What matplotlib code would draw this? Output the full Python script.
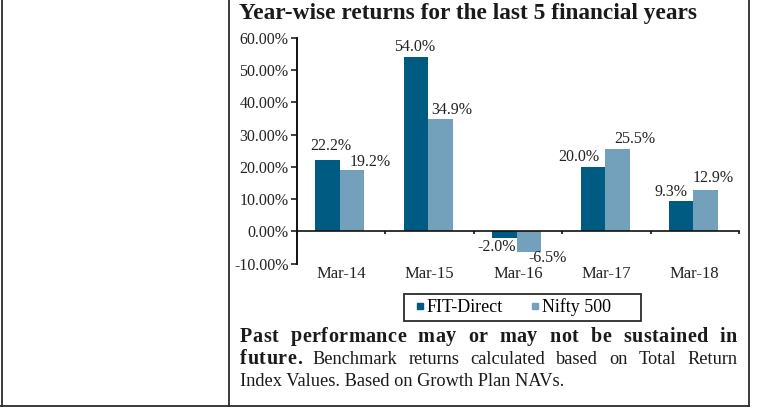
import numpy as np
import matplotlib
matplotlib.use('Agg')
import matplotlib.pyplot as plt
from matplotlib.lines import Line2D
from matplotlib.patches import Rectangle

plt.rcParams['font.family'] = ['Liberation Serif', 'DejaVu Serif']

# data
years = ['Mar-14', 'Mar-15', 'Mar-16', 'Mar-17', 'Mar-18']
fit_direct = [22.2, 54.0, -2.0, 20.0, 9.3]
nifty_500 = [19.2, 34.9, -6.5, 25.5, 12.9]
series_names = ['FIT-Direct', 'Nifty 500']
yticks = [-10, 0, 10, 20, 30, 40, 50, 60]
title = 'Year-wise returns for the last 5 financial years'
note_bold = ['Past', 'performance', 'may', 'or', 'may', 'not', 'be', 'sustained', 'in']
note_line2 = ['Benchmark', 'returns', 'calculated', 'based', 'on', 'Total', 'Return']
note_line3 = 'Index Values. Based on Growth Plan NAVs.'

# label nudges in pixels (dx, dy) - excel put them a bit off the bars
fit_nudge = [(3, 14), (-1, 10.6), (-8, -8.7), (-14.5, 10), (-10, 9)]
nifty_nudge = [(18.4, 8), (11, 9), (19, -5.5), (17, 10), (7.3, 12)]

dark = '#005b82'
light = '#73a0bb'
edge = '#2b2b2b'
ink = '#1a1a1a'

W, H = 759, 408
fig = plt.figure(figsize=(W / 100, H / 100), dpi=100)
r = fig.canvas.get_renderer()

def fx(px):
    return px / W

def fy(py):
    return 1 - py / H

ax = fig.add_axes([fx(297), fy(263.7), fx(739) - fx(297), fy(38) - fy(263.7)])
x = np.arange(len(years))
bw = 0.277
ax.bar(x - bw / 2 - 0.015, fit_direct, bw, color=dark)
ax.bar(x + bw / 2 - 0.015, nifty_500, bw, color=light)
ax.set_xlim(-0.5, len(years) - 0.5)
ax.set_ylim(-10, 60)

for s in ['top', 'right']:
    ax.spines[s].set_visible(False)
ax.spines['left'].set_linewidth(1.4)
ax.spines['left'].set_color('#111')
ax.spines['bottom'].set_position(('data', 0))
ax.spines['bottom'].set_linewidth(1.2)
ax.spines['bottom'].set_color('#111')

ax.set_yticks(yticks)
ax.set_yticklabels(['%.2f%%' % v for v in yticks])
ax.tick_params(axis='y', direction='out', length=4, width=1.2, pad=2, labelsize=11.5, colors='#222')
ax.set_xticks(np.arange(len(years) + 1) - 0.5)
ax.set_xticklabels([])
ax.tick_params(axis='x', direction='out', length=2.5, width=1.2, colors='#111')

for i, lab in enumerate(years):
    ax.annotate(lab, (i, 0), xycoords=('data', 'axes fraction'), xytext=(0, -10.6),
                textcoords='offset pixels', ha='center', va='center', fontsize=12, color='#222')

for i in range(len(years)):
    for vals, nudge, off in [(fit_direct, fit_nudge, -bw / 2), (nifty_500, nifty_nudge, bw / 2)]:
        v = vals[i]
        ax.annotate('%.1f%%' % v, (i + off - 0.015, v), xytext=nudge[i], textcoords='offset pixels',
                    ha='center', va='center', fontsize=11.5, color='#222')

# legend, box drawn by hand so it sits where the original one is
fig.add_artist(Rectangle((fx(404), fy(321)), fx(641) - fx(404), (321 - 294) / H,
                         transform=fig.transFigure, fill=False, ec=edge, lw=1.3))
handles = [Line2D([], [], ls='', marker='s', ms=5, color=c) for c in [dark, light]]
fig.legend(handles, series_names, loc='center left', bbox_to_anchor=(fx(415), fy(307.5)),
           ncol=2, frameon=False, fontsize=13, handlelength=0.5, handletextpad=0.15,
           columnspacing=1.5, borderpad=0, borderaxespad=0)

# title
fig.text(fx(239), fy(18.5), title, fontsize=16.8, fontweight='bold', va='baseline', color=ink)

# footnote: bold part is letter spaced, lines 1-2 justified by hand
def char_widths(word, size, weight):
    ws = []
    for ch in word:
        t = fig.text(0, 0, ch, fontsize=size, fontweight=weight)
        ws.append(t.get_window_extent(r).width)
        t.remove()
    return ws

def word_width(word, size, weight, track):
    if track == 0:
        t = fig.text(0, 0, word, fontsize=size, fontweight=weight)
        w = t.get_window_extent(r).width
        t.remove()
        return w
    cw = char_widths(word, size, weight)
    return sum(cw) + track * (len(cw) - 1)

def draw_word(word, x0, y, size, weight, track):
    if track == 0:
        fig.text(fx(x0), fy(y), word, fontsize=size, fontweight=weight, va='baseline', color=ink)
        return
    xpos = x0
    for ch, w in zip(word, char_widths(word, size, weight)):
        fig.text(fx(xpos), fy(y), ch, fontsize=size, fontweight=weight, va='baseline', color=ink)
        xpos += w + track

def put_line(parts, y, x0, x1):
    # parts: (word, size, weight, track)
    ws = [word_width(*p[:3], p[3]) for p in parts]
    gap = (x1 - x0 - sum(ws)) / (len(parts) - 1)
    xpos = x0
    for p, w in zip(parts, ws):
        draw_word(p[0], xpos, y, p[1], p[2], p[3])
        xpos += w + gap

bsize = 14.5
nchars = sum(len(w) for w in note_bold)
bold_chars = sum(sum(char_widths(w, bsize, 'bold')) for w in note_bold)
track = (737 - 240 - 8 * 12 - bold_chars) / (nchars - len(note_bold))

put_line([(w, bsize, 'bold', track) for w in note_bold], 341.5, 240, 737)
put_line([('future.', bsize, 'bold', track)] + [(w, 13.2, 'normal', 0) for w in note_line2], 364, 240, 737)
fig.text(fx(240), fy(386), note_line3, fontsize=13.2, va='baseline', color=ink)

# table borders around the chart
for xl in [2, 229, 749]:
    fig.add_artist(Line2D([fx(xl), fx(xl)], [fy(406), 1], transform=fig.transFigure, color=edge, lw=1.3))
fig.add_artist(Line2D([fx(0), fx(749)], [fy(406), fy(406)], transform=fig.transFigure, color=edge, lw=1.3))

fig.savefig('out.png', dpi=100)
